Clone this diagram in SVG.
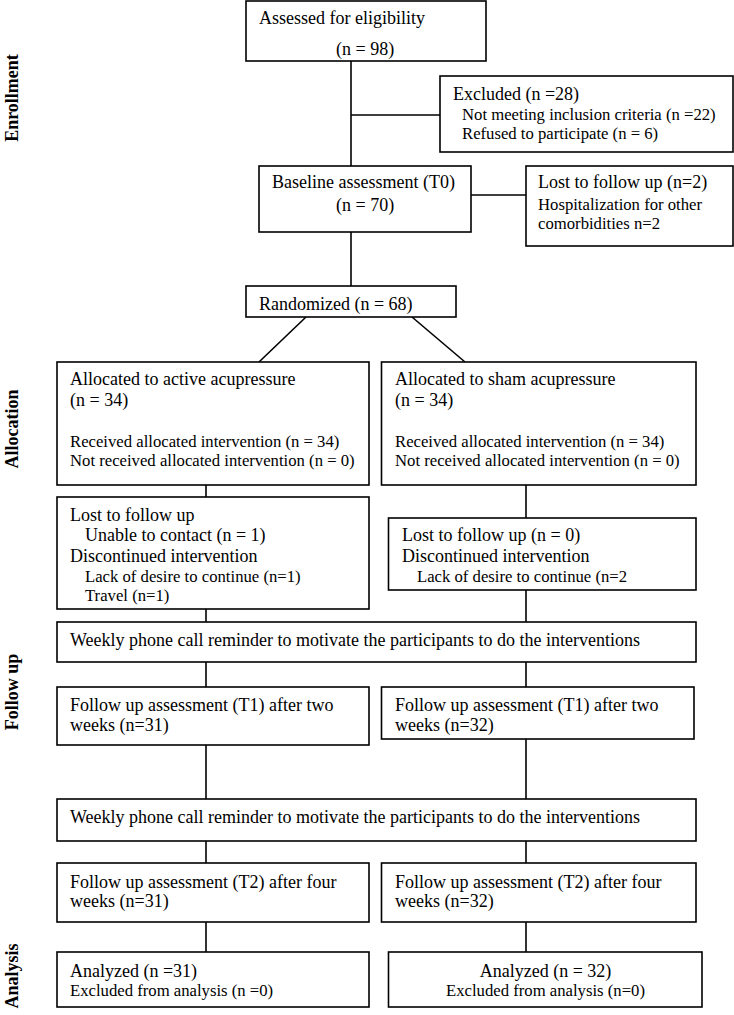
<svg xmlns="http://www.w3.org/2000/svg" width="734" height="1015" viewBox="0 0 734 1015">
<style>
rect{fill:#fff;stroke:#000;stroke-width:1.6}
line{stroke:#000;stroke-width:1.6}
text{font-family:"Liberation Serif","Times New Roman",serif;font-size:18px;fill:#000}
.s{font-size:16.7px}
.side{font-weight:bold;font-size:18px}
.m{text-anchor:middle}
</style>
<rect x="0" y="0" width="734" height="1015" style="fill:#fff;stroke:none"/>
<g id="labels">
<text class="side m" transform="translate(18,98) rotate(-90)">Enrollment</text>
<text class="side m" transform="translate(18,429) rotate(-90)">Allocation</text>
<text class="side m" transform="translate(18,692) rotate(-90)">Follow up</text>
<text class="side m" transform="translate(18,976) rotate(-90)">Analysis</text>
</g>
<g id="connectors">
<line x1="351" y1="61" x2="351" y2="166"/>
<line x1="351" y1="115" x2="440" y2="115"/>
<line x1="471" y1="195" x2="526" y2="195"/>
<line x1="351" y1="232" x2="351" y2="286"/>
<line x1="306" y1="317" x2="259" y2="362"/>
<line x1="412" y1="317" x2="465" y2="362"/>
<line x1="206" y1="485" x2="206" y2="497"/>
<line x1="526" y1="485" x2="526" y2="518"/>
<line x1="206" y1="609" x2="206" y2="622"/>
<line x1="526" y1="590" x2="526" y2="622"/>
<line x1="206" y1="662" x2="206" y2="687"/>
<line x1="526" y1="662" x2="526" y2="687"/>
<line x1="206" y1="745" x2="206" y2="799"/>
<line x1="526" y1="739" x2="526" y2="799"/>
<line x1="206" y1="841" x2="206" y2="863"/>
<line x1="526" y1="841" x2="526" y2="863"/>
<line x1="206" y1="922" x2="206" y2="952"/>
<line x1="526" y1="922" x2="526" y2="952"/>
</g>
<g id="assessed">
<rect x="246" y="1" width="240" height="60"/>
<text x="259" y="24">Assessed for eligibility</text>
<text x="336" y="55">(n = 98)</text>
</g>
<g id="excluded">
<rect x="440" y="76" width="293" height="76"/>
<text x="453" y="100">Excluded (n =28)</text>
<text class="s" x="462" y="120">Not meeting inclusion criteria (n =22)</text>
<text class="s" x="462" y="139">Refused to participate (n = 6)</text>
</g>
<g id="baseline">
<rect x="259" y="166" width="212" height="66"/>
<text x="272" y="188">Baseline assessment (T0)</text>
<text x="336" y="211">(n = 70)</text>
</g>
<g id="lost-baseline">
<rect x="526" y="166" width="207" height="80"/>
<text x="538" y="188">Lost to follow up (n=2)</text>
<text class="s" x="538" y="210">Hospitalization for other</text>
<text class="s" x="538" y="229">comorbidities n=2</text>
</g>
<g id="randomized">
<rect x="246" y="286" width="210" height="31"/>
<text x="259" y="310">Randomized (n = 68)</text>
</g>
<g id="alloc-active">
<rect x="57" y="362" width="312" height="123"/>
<text x="70" y="385">Allocated to active acupressure</text>
<text x="70" y="406">(n = 34)</text>
<text class="s" x="70" y="447">Received allocated intervention (n = 34)</text>
<text class="s" x="70" y="466">Not received allocated intervention (n = 0)</text>
</g>
<g id="alloc-sham">
<rect x="381.5" y="362" width="314.5" height="123"/>
<text x="395" y="385">Allocated to sham acupressure</text>
<text x="395" y="406">(n = 34)</text>
<text class="s" x="395" y="447">Received allocated intervention (n = 34)</text>
<text class="s" x="395" y="466">Not received allocated intervention (n = 0)</text>
</g>
<g id="lost-active">
<rect x="57" y="497" width="312" height="112"/>
<text x="70" y="521">Lost to follow up</text>
<text x="85" y="541">Unable to contact (n = 1)</text>
<text x="70" y="562">Discontinued intervention</text>
<text class="s" x="85" y="582">Lack of desire to continue (n=1)</text>
<text class="s" x="85" y="601">Travel (n=1)</text>
</g>
<g id="lost-sham">
<rect x="388.5" y="518" width="307.5" height="72"/>
<text x="402" y="541">Lost to follow up (n = 0)</text>
<text x="402" y="562">Discontinued intervention</text>
<text class="s" x="417" y="582">Lack of desire to continue (n=2</text>
</g>
<g id="weekly1">
<rect x="57" y="622" width="639" height="40"/>
<text x="70" y="646">Weekly phone call reminder to motivate the participants to do the interventions</text>
</g>
<g id="t1-active">
<rect x="57" y="687" width="312" height="58"/>
<text x="70" y="711">Follow up assessment (T1) after two</text>
<text x="70" y="731">weeks (n=31)</text>
</g>
<g id="t1-sham">
<rect x="381.5" y="687" width="312.5" height="52"/>
<text x="395" y="711">Follow up assessment (T1) after two</text>
<text x="395" y="731">weeks (n=32)</text>
</g>
<g id="weekly2">
<rect x="57" y="799" width="639" height="42"/>
<text x="70" y="823">Weekly phone call reminder to motivate the participants to do the interventions</text>
</g>
<g id="t2-active">
<rect x="57" y="863" width="312" height="59"/>
<text x="70" y="888">Follow up assessment (T2) after four</text>
<text x="70" y="907">weeks (n=31)</text>
</g>
<g id="t2-sham">
<rect x="381.5" y="863" width="314.5" height="59"/>
<text x="395" y="888">Follow up assessment (T2) after four</text>
<text x="395" y="907">weeks (n=32)</text>
</g>
<g id="analyzed-active">
<rect x="57" y="952" width="312" height="55"/>
<text x="70" y="977">Analyzed (n =31)</text>
<text class="s" x="70" y="996">Excluded from analysis (n =0)</text>
</g>
<g id="analyzed-sham">
<rect x="388.5" y="952" width="313.5" height="55"/>
<text class="m" x="545.5" y="977">Analyzed (n = 32)</text>
<text class="s m" x="545.5" y="996">Excluded from analysis (n=0)</text>
</g>
</svg>
